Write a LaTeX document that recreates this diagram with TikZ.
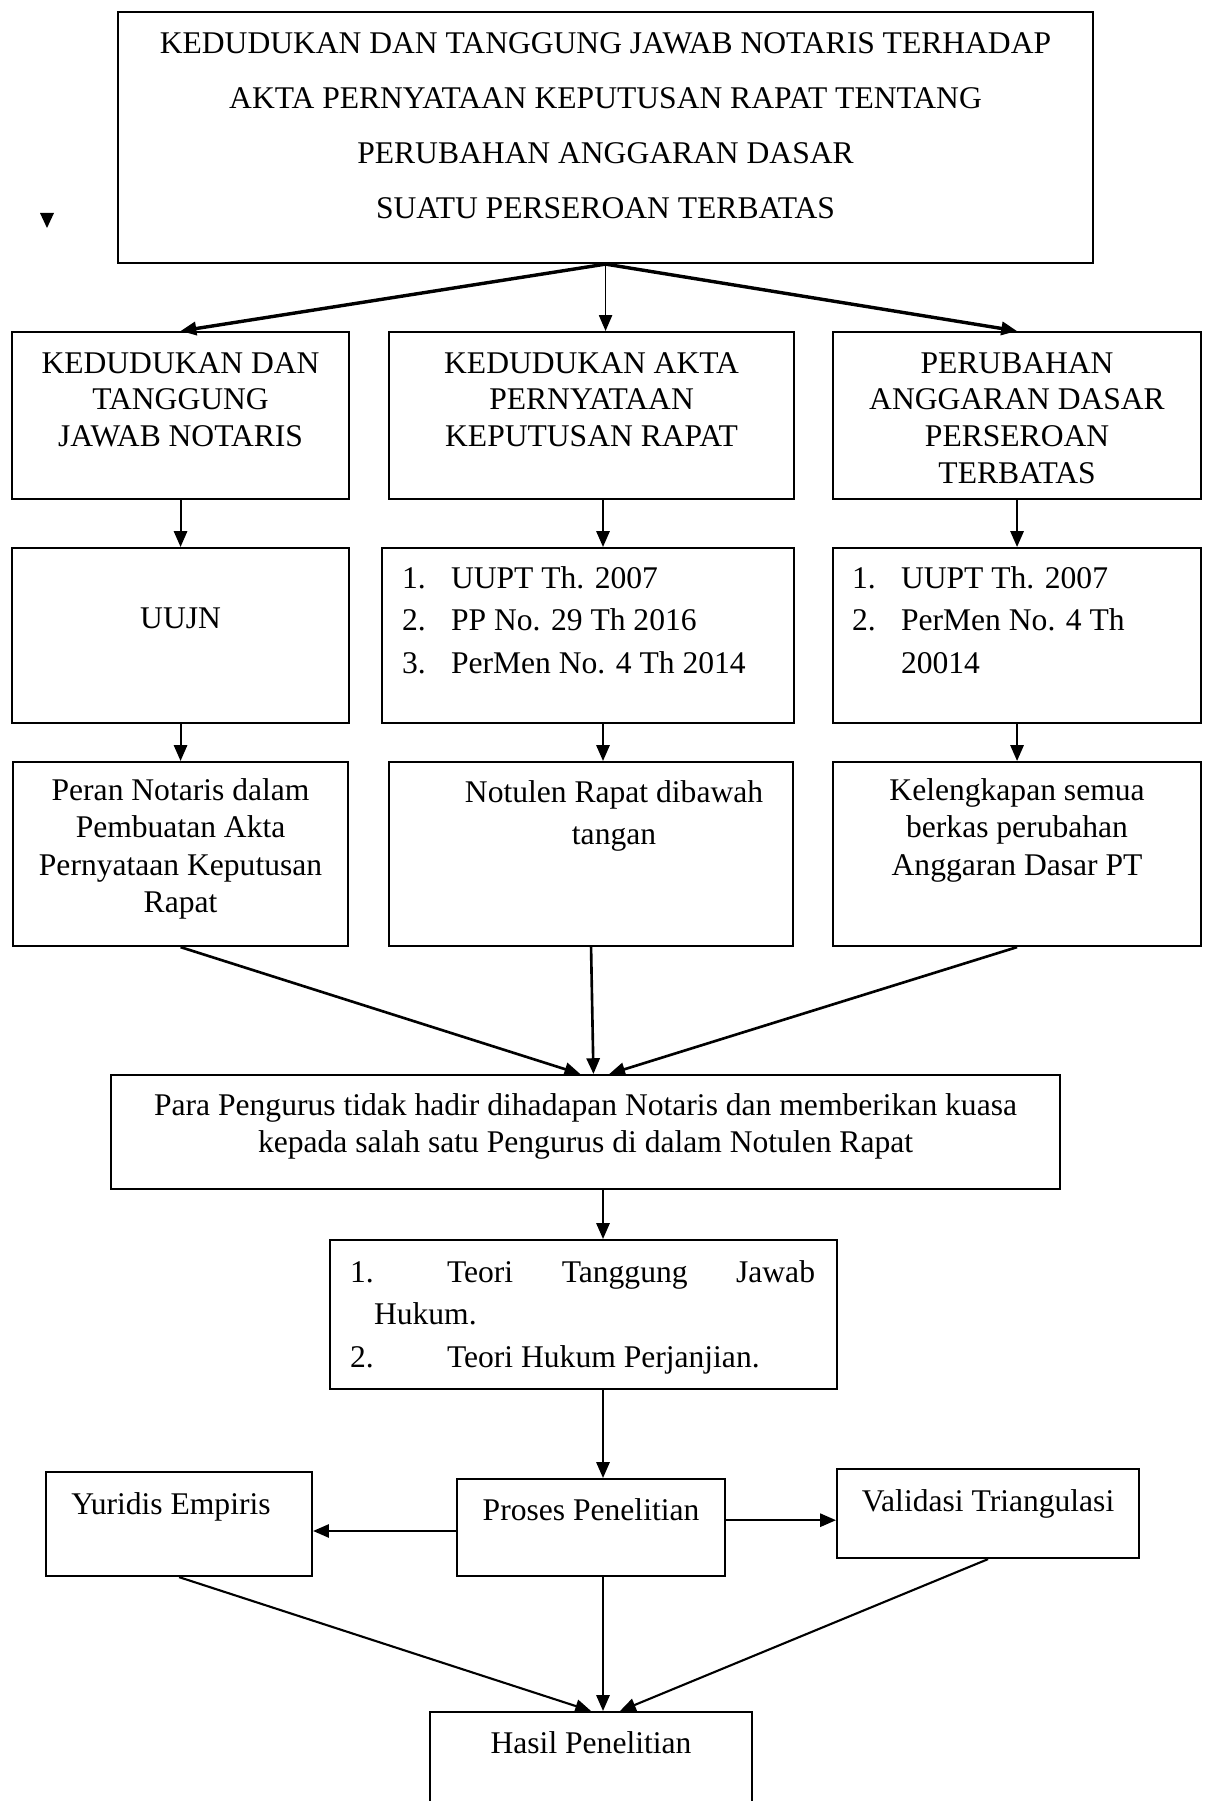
\documentclass[tikz,border=0pt]{standalone}
\usepackage{fontspec}
\setmainfont{Liberation Serif}
\usetikzlibrary{arrows.meta}

\newdimen\pxu
\pxu=0.38pt
% isi kotak: lebar, tinggi, baris pertama, teks
\newcommand{\isi}[4]{\parbox[c][#2\pxu][t]{#1\pxu}{\rule{0pt}{#3\pxu}#4}}

\tikzset{
  kotak/.style={draw, line width=0.8pt, inner sep=0pt, anchor=north west, font=\fontsize{12pt}{#1}\selectfont},
  kotak/.default=13.95pt,
  panah/.style={-{Triangle[length=6pt,width=5pt]}, line width=0.8pt},
  panahtebal/.style={panah, line width=1.3pt}
}

\begin{document}
\begin{tikzpicture}[x=0.38pt, y=-0.38pt]
    \useasboundingbox (0,0) rectangle (1210,1801);
    \clip (0,0) rectangle (1210,1801);

    % draw boxes
    \node[kotak=20.9pt] (judul) at (117,11) {\isi{975}{251}{41}{\centering KEDUDUKAN DAN TANGGUNG JAWAB NOTARIS TERHADAP\\ AKTA PERNYATAAN KEPUTUSAN RAPAT TENTANG\\ PERUBAHAN ANGGARAN DASAR\\ SUATU PERSEROAN TERBATAS}};

    \node[kotak] (kedNot) at (11,331) {\isi{337}{167}{41}{\centering KEDUDUKAN DAN\\ TANGGUNG\\ JAWAB NOTARIS}};
    \node[kotak] (kedAkta) at (388,331) {\isi{405}{167}{41}{\centering KEDUDUKAN AKTA\\ PERNYATAAN\\ KEPUTUSAN RAPAT}};
    \node[kotak] (perAD) at (832,331) {\isi{368}{167}{41}{\centering PERUBAHAN\\ ANGGARAN DASAR\\ PERSEROAN\\ TERBATAS}};

    \node[kotak] (uujn) at (11,547) {\isi{337}{175}{80}{\centering UUJN}};
    \node[kotak=16.3pt] (uuptA) at (381,547) {\isi{412}{175}{40}{\raggedright\hspace*{20\pxu}\makebox[49\pxu][l]{1.}UUPT Th. 2007\\ \hspace*{20\pxu}\makebox[49\pxu][l]{2.}PP No. 29 Th 2016\\ \hspace*{20\pxu}\makebox[49\pxu][l]{3.}PerMen No. 4 Th 2014}};
    \node[kotak=16.3pt] (uuptB) at (832,547) {\isi{368}{175}{40}{\raggedright\hspace*{19\pxu}\makebox[49\pxu][l]{1.}UUPT Th. 2007\\ \hspace*{19\pxu}\makebox[49\pxu][l]{2.}PerMen No. 4 Th\\ \hspace*{68\pxu}20014}};

    \node[kotak=14.25pt] (peran) at (12,761) {\isi{335}{184}{38}{\centering Peran Notaris dalam\\ Pembuatan Akta\\ Pernyataan Keputusan\\ Rapat}};
    \node[kotak=16.3pt] (notulen) at (388,761) {\isi{404}{184}{40}{\centering\hspace*{46\pxu}Notulen Rapat dibawah\\ \hspace*{46\pxu}tangan}};
    \node[kotak=14.25pt] (lengkap) at (832,761) {\isi{368}{184}{38}{\centering Kelengkapan semua\\ berkas perubahan\\ Anggaran Dasar PT}};

    \node[kotak=14.4pt] (para) at (110,1074) {\isi{949}{114}{40}{\centering Para Pengurus tidak hadir dihadapan Notaris dan memberikan kuasa\\ kepada salah satu Pengurus di dalam Notulen Rapat}};

    \node[kotak=16.15pt] (teori) at (329,1239) {\isi{507}{149}{42}{\raggedright\hspace*{20\pxu}\makebox[465\pxu][l]{\makebox[97\pxu][l]{1.}Teori\hfill Tanggung\hfill Jawab}\\ \hspace*{44\pxu}Hukum.\\ \hspace*{20\pxu}\makebox[97\pxu][l]{2.}Teori Hukum Perjanjian.}};

    \node[kotak] (yuridis) at (45,1471) {\isi{266}{104}{42}{\centering Yuridis Empiris\hspace*{16\pxu}}};
    \node[kotak] (proses) at (456,1478) {\isi{268}{97}{41}{\centering Proses Penelitian}};
    \node[kotak] (validasi) at (836,1468) {\isi{302}{89}{42}{\centering Validasi Triangulasi}};
    \node[kotak] (hasil) at (429,1711) {\isi{322}{150}{41}{\centering Hasil Penelitian}};

    % stray arrow head
    \fill (40,213) -- (54,213) -- (47,228) -- cycle;

    % draw arrows
    \coordinate (poros) at (603,0);
    \draw[panahtebal] (judul.south) -- (kedNot.north);
    \draw[panah, line width=0.6pt] (judul.south) -- (judul.south |- kedAkta.north);
    \draw[panahtebal] (judul.south) -- (perAD.north);

    \foreach \a/\b in {kedNot/uujn, perAD/uuptB, uujn/peran, uuptB/lengkap}
    \draw[panah] (\a.south) -- (\b.north);
    \draw[panah] (kedAkta.south -| poros) -- (poros |- uuptA.north);
    \draw[panah] (uuptA.south -| poros) -- (poros |- notulen.north);

    \draw[panah, line width=1pt] (peran.south) -- ([xshift=-2pt]para.north);
    \draw[panah, line width=1pt] (notulen.south) -- ([xshift=3pt]para.north);
    \draw[panah, line width=1pt] (lengkap.south) -- ([xshift=9pt]para.north);

    \draw[panah] (para.south -| poros) -- (poros |- teori.north);
    \draw[panah] (teori.south -| poros) -- (poros |- proses.north);
    \draw[panah] ([yshift=-1.3pt]proses.west) -- ([yshift=-1.3pt]proses.west -| yuridis.east);
    \draw[panah] ([yshift=2.8pt]proses.east) -- ([yshift=2.8pt]proses.east -| validasi.west);

    \draw[panah] (yuridis.south) -- (hasil.north);
    \draw[panah] (proses.south -| poros) -- (poros |- hasil.north);
    \draw[panah] (validasi.south) -- ([xshift=11pt]hasil.north);
\end{tikzpicture}
\end{document}
